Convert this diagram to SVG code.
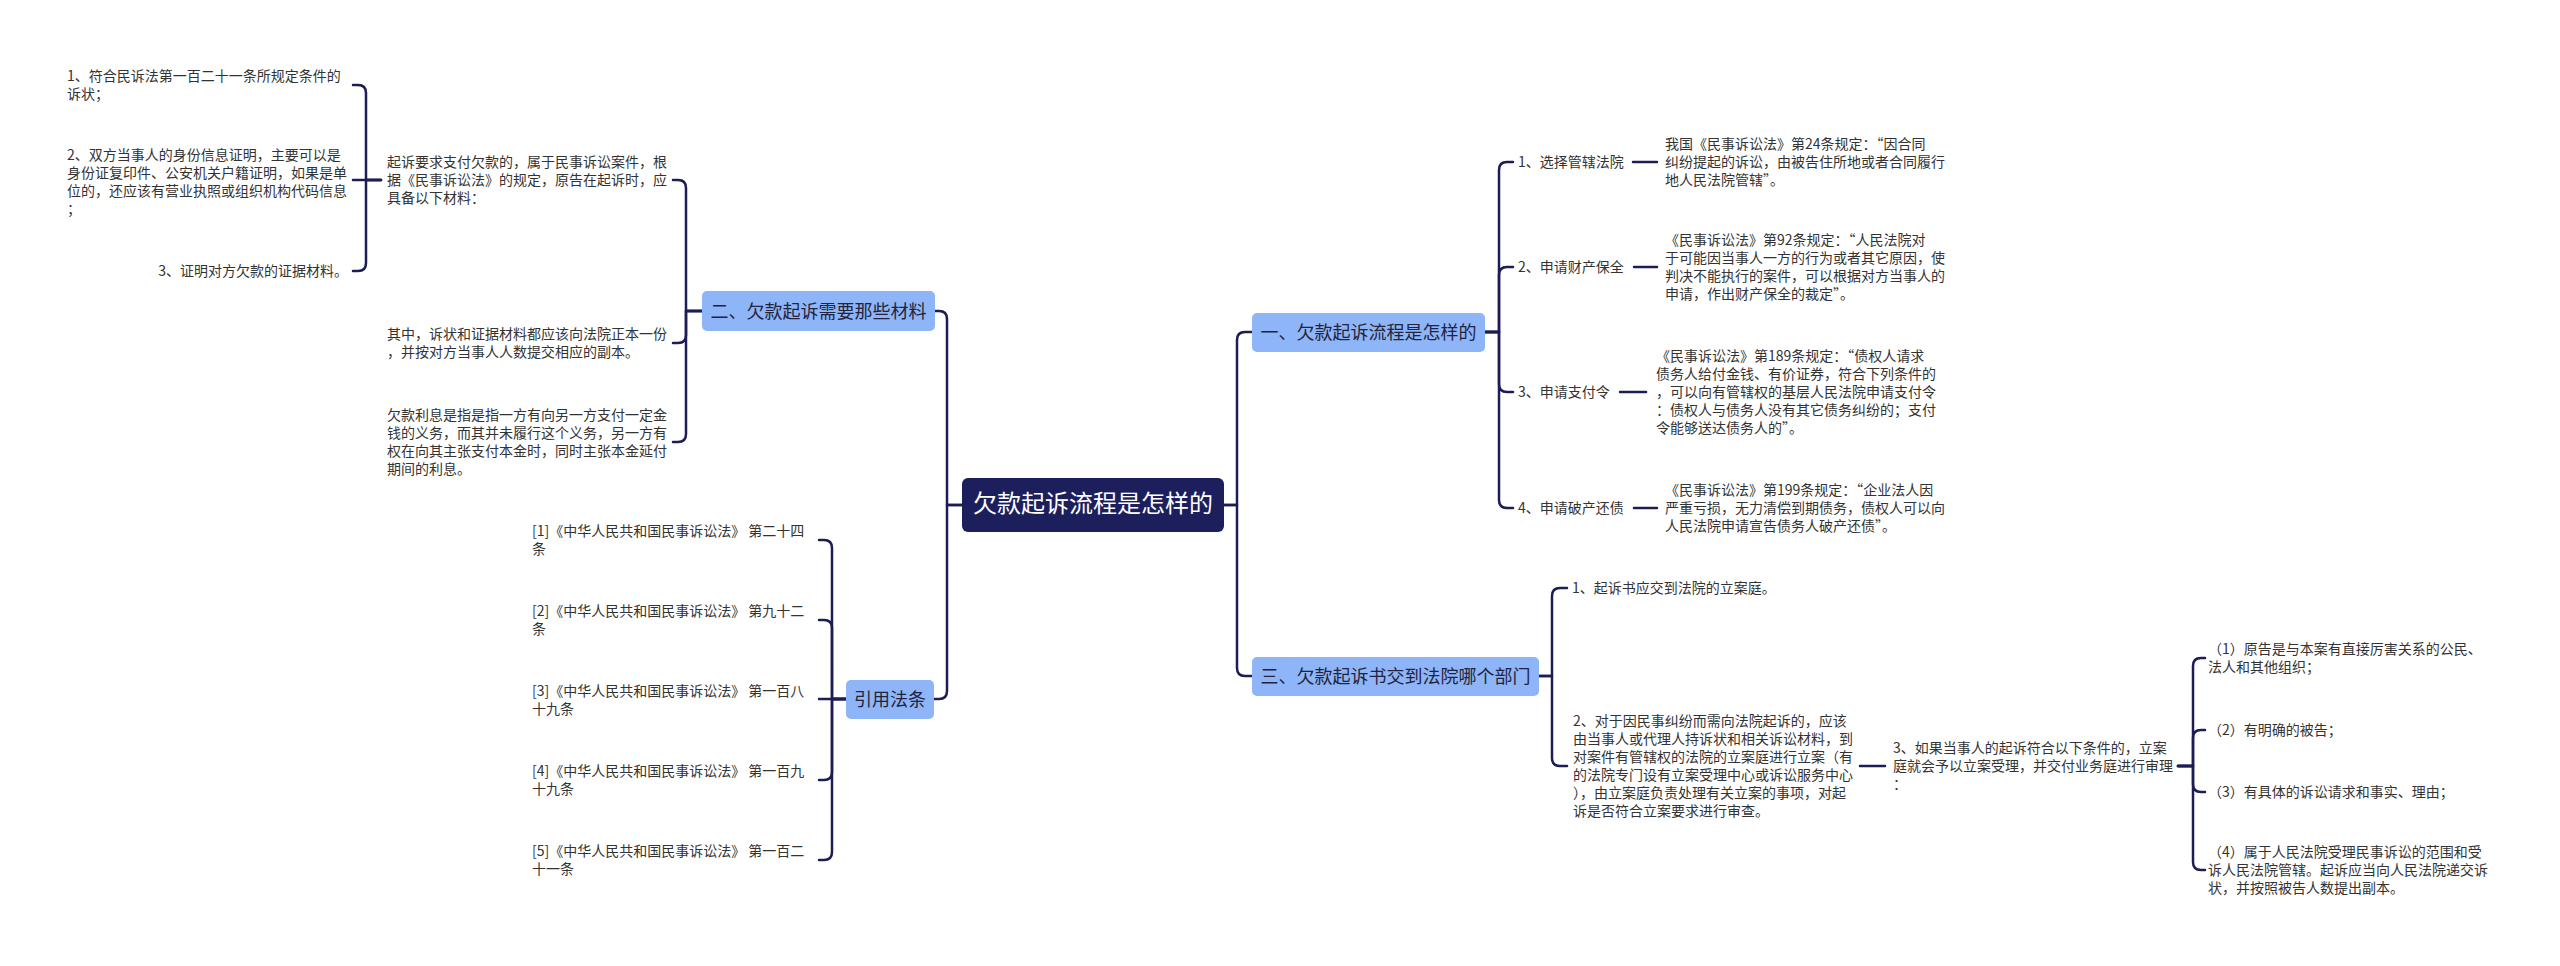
<svg xmlns="http://www.w3.org/2000/svg" width="2560" height="966" viewBox="0 0 2560 966">
<style>
.t{font-family:"Noto Sans CJK SC","Liberation Sans",sans-serif;font-size:14px;fill:#333}
.b{font-family:"Noto Sans CJK SC","Liberation Sans",sans-serif;font-size:18px;fill:#232340;text-anchor:middle}
.c{font-family:"Noto Sans CJK SC","Liberation Sans",sans-serif;font-size:24px;fill:#fff;text-anchor:middle}
.box{fill:#8db5f7}
.ln{fill:none;stroke:#1c1d55;stroke-width:2.5;stroke-linecap:round;stroke-linejoin:round}
</style>
<rect width="2560" height="966" fill="#fff"/>
<g id="connectors">
<path class="ln" d="M962 505H947V319Q947 311 939 311H935"/>
<path class="ln" d="M962 505H947V691Q947 699 939 699H934"/>
<path class="ln" d="M1224 505H1237V340Q1237 332 1245 332H1252"/>
<path class="ln" d="M1224 505H1237V668Q1237 676 1245 676H1252"/>
<path class="ln" d="M702 311H686V188Q686 180 678 180H673"/>
<path class="ln" d="M702 311H686V335Q686 343 678 343H673"/>
<path class="ln" d="M702 311H686V434Q686 442 678 442H673"/>
<path class="ln" d="M381 180H366V93Q366 85 358 85H353"/>
<path class="ln" d="M381 180H353"/>
<path class="ln" d="M381 180H366V263Q366 271 358 271H353"/>
<path class="ln" d="M846 699H832V548Q832 540 824 540H819"/>
<path class="ln" d="M846 699H832V628Q832 620 824 620H819"/>
<path class="ln" d="M846 699H819"/>
<path class="ln" d="M846 699H832V772Q832 780 824 780H819"/>
<path class="ln" d="M846 699H832V852Q832 860 824 860H819"/>
<path class="ln" d="M1485 332H1499V170Q1499 162 1507 162H1513"/>
<path class="ln" d="M1485 332H1499V275Q1499 267 1507 267H1513"/>
<path class="ln" d="M1485 332H1499V384Q1499 392 1507 392H1513"/>
<path class="ln" d="M1485 332H1499V500Q1499 508 1507 508H1513"/>
<path class="ln" d="M1633 162H1657"/>
<path class="ln" d="M1634 267H1657"/>
<path class="ln" d="M1620 392H1646"/>
<path class="ln" d="M1634 508H1657"/>
<path class="ln" d="M1539 676H1552V596Q1552 588 1560 588H1567"/>
<path class="ln" d="M1539 676H1552V758Q1552 766 1560 766H1567"/>
<path class="ln" d="M1860 766H1885"/>
<path class="ln" d="M2178 766H2193V666Q2193 658 2201 658H2205"/>
<path class="ln" d="M2178 766H2193V738Q2193 730 2201 730H2205"/>
<path class="ln" d="M2178 766H2193V784Q2193 792 2201 792H2205"/>
<path class="ln" d="M2178 766H2193V862Q2193 870 2201 870H2205"/>
</g>
<g id="root">
<rect x="962" y="478" width="262" height="54" rx="6" fill="#1d1f5c"/>
<text class="c" x="1093" y="512">欠款起诉流程是怎样的</text>
</g>
<g id="branch2">
<rect class="box" x="702" y="291" width="233" height="40" rx="5"/>
<text class="b" x="818.5" y="318">二、欠款起诉需要那些材料</text>
</g>
<g id="branchRef">
<rect class="box" x="846" y="680" width="88" height="39" rx="5"/>
<text class="b" x="890" y="706">引用法条</text>
</g>
<g id="branch1">
<rect class="box" x="1252" y="313" width="233" height="39" rx="5"/>
<text class="b" x="1368.5" y="339">一、欠款起诉流程是怎样的</text>
</g>
<g id="branch3">
<rect class="box" x="1252" y="657" width="287" height="39" rx="5"/>
<text class="b" x="1395.5" y="683">三、欠款起诉书交到法院哪个部门</text>
</g>
<g id="a1"><text class="t" x="67"><tspan x="67" y="81">1、符合民诉法第一百二十一条所规定条件的</tspan><tspan x="67" y="99">诉状；</tspan></text></g>
<g id="a2"><text class="t"><tspan x="67" y="160">2、双方当事人的身份信息证明，主要可以是</tspan><tspan x="67" y="178">身份证复印件、公安机关户籍证明，如果是单</tspan><tspan x="67" y="196">位的，还应该有营业执照或组织机构代码信息</tspan><tspan x="67" y="214">；</tspan></text></g>
<g id="a3"><text class="t" x="348" y="276" text-anchor="end">3、证明对方欠款的证据材料。</text></g>
<g id="b1"><text class="t"><tspan x="387" y="167">起诉要求支付欠款的，属于民事诉讼案件，根</tspan><tspan x="387" y="185">据《民事诉讼法》的规定，原告在起诉时，应</tspan><tspan x="387" y="203">具备以下材料：</tspan></text></g>
<g id="b2"><text class="t"><tspan x="387" y="339">其中，诉状和证据材料都应该向法院正本一份</tspan><tspan x="387" y="357">，并按对方当事人人数提交相应的副本。</tspan></text></g>
<g id="b3"><text class="t"><tspan x="387" y="420">欠款利息是指是指一方有向另一方支付一定金</tspan><tspan x="387" y="438">钱的义务，而其并未履行这个义务，另一方有</tspan><tspan x="387" y="456">权在向其主张支付本金时，同时主张本金延付</tspan><tspan x="387" y="474">期间的利息。</tspan></text></g>
<g id="r1"><text class="t"><tspan x="532" y="536">[1]《中华人民共和国民事诉讼法》 第二十四</tspan><tspan x="532" y="554">条</tspan></text></g>
<g id="r2"><text class="t"><tspan x="532" y="616">[2]《中华人民共和国民事诉讼法》 第九十二</tspan><tspan x="532" y="634">条</tspan></text></g>
<g id="r3"><text class="t"><tspan x="532" y="696">[3]《中华人民共和国民事诉讼法》 第一百八</tspan><tspan x="532" y="714">十九条</tspan></text></g>
<g id="r4"><text class="t"><tspan x="532" y="776">[4]《中华人民共和国民事诉讼法》 第一百九</tspan><tspan x="532" y="794">十九条</tspan></text></g>
<g id="r5"><text class="t"><tspan x="532" y="856">[5]《中华人民共和国民事诉讼法》 第一百二</tspan><tspan x="532" y="874">十一条</tspan></text></g>
<g id="c1"><text class="t" x="1518" y="167">1、选择管辖法院</text></g>
<g id="c2"><text class="t" x="1518" y="272">2、申请财产保全</text></g>
<g id="c3"><text class="t" x="1518" y="397">3、申请支付令</text></g>
<g id="c4"><text class="t" x="1518" y="513">4、申请破产还债</text></g>
<g id="d1"><text class="t"><tspan x="1665" y="149">我国《民事诉讼法》第24条规定：“因合同</tspan><tspan x="1665" y="167">纠纷提起的诉讼，由被告住所地或者合同履行</tspan><tspan x="1665" y="185">地人民法院管辖”。</tspan></text></g>
<g id="d2"><text class="t"><tspan x="1665" y="245">《民事诉讼法》第92条规定：“人民法院对</tspan><tspan x="1665" y="263">于可能因当事人一方的行为或者其它原因，使</tspan><tspan x="1665" y="281">判决不能执行的案件，可以根据对方当事人的</tspan><tspan x="1665" y="299">申请，作出财产保全的裁定”。</tspan></text></g>
<g id="d3"><text class="t"><tspan x="1656" y="361">《民事诉讼法》第189条规定：“债权人请求</tspan><tspan x="1656" y="379">债务人给付金钱、有价证券，符合下列条件的</tspan><tspan x="1656" y="397">，可以向有管辖权的基层人民法院申请支付令</tspan><tspan x="1656" y="415">：债权人与债务人没有其它债务纠纷的；支付</tspan><tspan x="1656" y="433">令能够送达债务人的”。</tspan></text></g>
<g id="d4"><text class="t"><tspan x="1665" y="495">《民事诉讼法》第199条规定：“企业法人因</tspan><tspan x="1665" y="513">严重亏损，无力清偿到期债务，债权人可以向</tspan><tspan x="1665" y="531">人民法院申请宣告债务人破产还债”。</tspan></text></g>
<g id="e1"><text class="t" x="1572" y="593">1、起诉书应交到法院的立案庭。</text></g>
<g id="e2"><text class="t"><tspan x="1573" y="726">2、对于因民事纠纷而需向法院起诉的，应该</tspan><tspan x="1573" y="744">由当事人或代理人持诉状和相关诉讼材料，到</tspan><tspan x="1573" y="762">对案件有管辖权的法院的立案庭进行立案（有</tspan><tspan x="1573" y="780">的法院专门设有立案受理中心或诉讼服务中心</tspan><tspan x="1573" y="798">），由立案庭负责处理有关立案的事项，对起</tspan><tspan x="1573" y="816">诉是否符合立案要求进行审查。</tspan></text></g>
<g id="e3"><text class="t"><tspan x="1893" y="753">3、如果当事人的起诉符合以下条件的，立案</tspan><tspan x="1893" y="771">庭就会予以立案受理，并交付业务庭进行审理</tspan><tspan x="1893" y="789">：</tspan></text></g>
<g id="f1"><text class="t"><tspan x="2208" y="654">（1）原告是与本案有直接厉害关系的公民、</tspan><tspan x="2208" y="672">法人和其他组织；</tspan></text></g>
<g id="f2"><text class="t" x="2208" y="735">（2）有明确的被告；</text></g>
<g id="f3"><text class="t" x="2208" y="797">（3）有具体的诉讼请求和事实、理由；</text></g>
<g id="f4"><text class="t"><tspan x="2208" y="857">（4）属于人民法院受理民事诉讼的范围和受</tspan><tspan x="2208" y="875">诉人民法院管辖。起诉应当向人民法院递交诉</tspan><tspan x="2208" y="893">状，并按照被告人数提出副本。</tspan></text></g>
</svg>
